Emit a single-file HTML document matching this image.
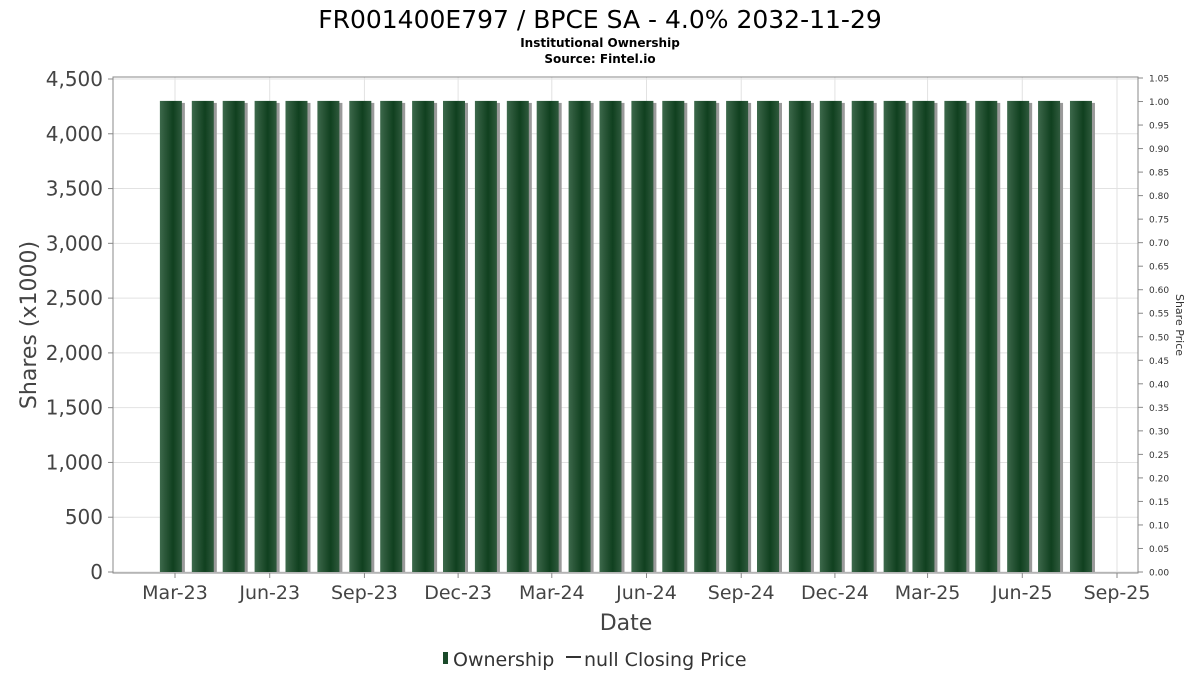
<!DOCTYPE html>
<html><head><meta charset="utf-8"><style>
body{margin:0;background:#fff;font-family:"DejaVu Sans","Liberation Sans",sans-serif;}
svg text{font-family:"DejaVu Sans","Liberation Sans",sans-serif;}
</style></head><body>
<svg id="chart" width="1200" height="675" xmlns="http://www.w3.org/2000/svg">
<defs>
<linearGradient id="bg" x1="0" x2="1" y1="0" y2="0">
<stop offset="0" stop-color="#3d6a4c"/><stop offset="0.2" stop-color="#2e5a3c"/><stop offset="0.6" stop-color="#10401f"/><stop offset="1" stop-color="#2f5a3d"/>
</linearGradient>
</defs>
<text x="600" y="28" text-anchor="middle" font-size="25" fill="#000">FR001400E797 / BPCE SA - 4.0% 2032-11-29</text>
<text x="600" y="47" text-anchor="middle" font-size="12" font-weight="bold">Institutional Ownership</text>
<text x="600" y="63" text-anchor="middle" font-size="12" font-weight="bold">Source: Fintel.io</text>
<g id="grid"></g>
<g id="bars"></g>
<rect x="113" y="77" width="1025" height="496" fill="none" stroke="#888"/>
<g id="axes"></g>
<text transform="translate(36,325) rotate(-90)" text-anchor="middle" font-size="22" fill="#444">Shares (x1000)</text>
<text transform="translate(1176,325) rotate(90)" text-anchor="middle" font-size="11" fill="#333">Share Price</text>
<text x="626" y="630" text-anchor="middle" font-size="22" fill="#444">Date</text>
<g>
<rect x="443" y="652" width="5" height="12" fill="#1a4a2a"/>
<text x="453" y="666" font-size="19" fill="#333">Ownership</text>
<line x1="566" y1="657" x2="581" y2="657" stroke="#333" stroke-width="2"/>
<text x="584" y="666" font-size="19" fill="#333">null Closing Price</text>
</g>
</svg>
<script>
const barDates=["2023-02-25","2023-03-28","2023-04-27","2023-05-28","2023-06-27","2023-07-28","2023-08-28","2023-09-27","2023-10-28","2023-11-27","2023-12-28","2024-01-28","2024-02-26","2024-03-28","2024-04-27","2024-05-28","2024-06-27","2024-07-28","2024-08-28","2024-09-27","2024-10-28","2024-11-27","2024-12-28","2025-01-28","2025-02-25","2025-03-28","2025-04-27","2025-05-28","2025-06-27","2025-07-28"];
const ownership=[4300,4300,4300,4300,4300,4300,4300,4300,4300,4300,4300,4300,4300,4300,4300,4300,4300,4300,4300,4300,4300,4300,4300,4300,4300,4300,4300,4300,4300,4300];
const yTicks=[0,500,1000,1500,2000,2500,3000,3500,4000,4500];
const y2Ticks=[0,0.05,0.1,0.15,0.2,0.25,0.3,0.35,0.4,0.45,0.5,0.55,0.6,0.65,0.7,0.75,0.8,0.85,0.9,0.95,1.0,1.05];
const xTickDates=["2023-03-01","2023-06-01","2023-09-01","2023-12-01","2024-03-01","2024-06-01","2024-09-01","2024-12-01","2025-03-01","2025-06-01","2025-09-01"];
const xTickLabels=["Mar-23","Jun-23","Sep-23","Dec-23","Mar-24","Jun-24","Sep-24","Dec-24","Mar-25","Jun-25","Sep-25"];
const NS="http://www.w3.org/2000/svg";
const t0=Date.parse("2023-03-01"),t1=Date.parse("2025-09-01");
function x(d){return 175+(Date.parse(d)-t0)/(t1-t0)*(1117-175);}
function y(v){return 572-v/4500*(572-79);}
function y2(v){return 572-v/1.05*(572-78);}
function mk(tag,attrs,parent){const e=document.createElementNS(NS,tag);for(const k in attrs)e.setAttribute(k,attrs[k]);parent.appendChild(e);return e;}
const grid=document.getElementById('grid'),bars=document.getElementById('bars'),axes=document.getElementById('axes');
yTicks.forEach(v=>{
 const l=mk('line',{x1:113,x2:1138,y1:y(v),y2:y(v),stroke:'#e2e2e2'},grid);
 
 
 const tk=mk('line',{x1:108,x2:113,y1:y(v),y2:y(v),stroke:'#888'},axes);
 
 
 const t=mk('text',{x:103,y:y(v)+7,'text-anchor':'end','font-size':20,fill:'#444'},axes);
 t.textContent=v.toLocaleString('en-US');
 
 
});
xTickDates.forEach((d,i)=>{
 const l=mk('line',{x1:x(d),x2:x(d),y1:77,y2:573,stroke:'#e2e2e2'},grid);
 
 
 const tk=mk('line',{x1:x(d),x2:x(d),y1:573,y2:578,stroke:'#888'},axes);
 
 
 const t=mk('text',{x:x(d),y:599,'text-anchor':'middle','font-size':19,fill:'#444'},axes);
 t.textContent=xTickLabels[i];
 
 
});
y2Ticks.forEach(v=>{
 const tk=mk('line',{x1:1138,x2:1143,y1:y2(v),y2:y2(v),stroke:'#888'},axes);
 
 
 const t=mk('text',{x:1149,y:y2(v)+3.5,'font-size':9,fill:'#333'},axes);
 t.textContent=v.toFixed(2);
 
 
});
barDates.forEach((d,i)=>{
 const cx=x(d),top=y(ownership[i]),w=22;
 const s=mk('rect',{x:cx-w/2+3,y:top+2,width:w,height:572-top-2,fill:'#9a9a9a'},bars);
 
 
 const r=mk('rect',{x:cx-w/2,y:top,width:w,height:572-top,fill:'url(#bg)'},bars);
 
 
});
</script>
</body></html>
